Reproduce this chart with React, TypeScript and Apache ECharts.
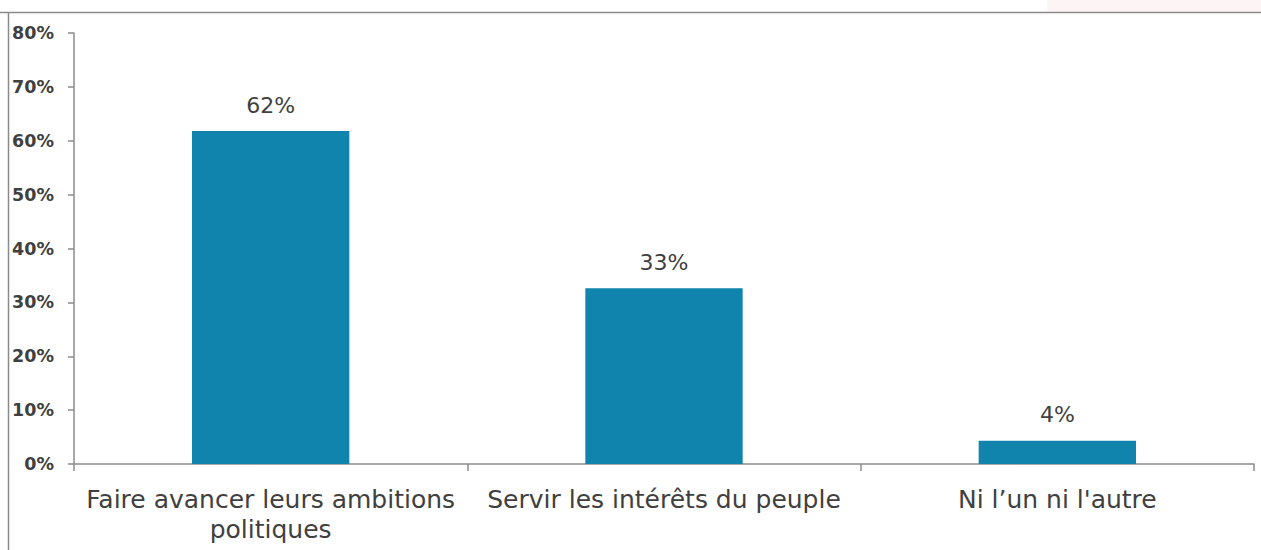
import React, { useEffect, useRef } from "react";
import * as echarts from "echarts";

const categories = [
  "Faire avancer leurs ambitions\npolitiques",
  "Servir les intérêts du peuple",
  "Ni l\u2019un ni l'autre",
];
const values = [61.8, 32.6, 4.3];
const yTicks = [0, 10, 20, 30, 40, 50, 60, 70, 80];

export default function App() {
  const ref = useRef<HTMLDivElement>(null);
  useEffect(() => {
    if (!ref.current) return;
    const chart = echarts.init(ref.current, undefined, { renderer: "svg" });
    const font = "'DejaVu Sans', sans-serif";
    chart.setOption({
      animation: false,
      backgroundColor: "#ffffff",
      textStyle: { fontFamily: font },
      grid: { left: 74, top: 33, right: 7, bottom: 86, containLabel: false },
      graphic: [
        { type: "rect", shape: { x: 1047, y: 0, width: 214, height: 12 }, style: { fill: "#fdf5f5" }, silent: true },
        { type: "line", shape: { x1: 0, y1: 12.5, x2: 1261, y2: 12.5 }, style: { stroke: "#8a8a8a", lineWidth: 1.5 }, silent: true },
        { type: "line", shape: { x1: 8.5, y1: 12, x2: 8.5, y2: 550 }, style: { stroke: "#8a8a8a", lineWidth: 1.5 }, silent: true },
      ],
      xAxis: {
        type: "category",
        data: categories,
        boundaryGap: true,
        axisLine: { show: true, lineStyle: { color: "#8c8c8c", width: 1.5 } },
        axisTick: { show: true, length: 7, lineStyle: { color: "#8c8c8c", width: 1.5 } },
        axisLabel: {
          color: "#404040",
          fontSize: 25,
          fontFamily: font,
          margin: 20,
          lineHeight: 30,
          interval: 0,
        },
      },
      yAxis: {
        type: "value",
        min: yTicks[0],
        max: yTicks[yTicks.length - 1],
        interval: 10,
        splitLine: { show: false },
        axisLine: { show: true, lineStyle: { color: "#8c8c8c", width: 1.5 } },
        axisTick: { show: true, length: 6, lineStyle: { color: "#8c8c8c", width: 1.5 } },
        axisLabel: {
          color: "#404040",
          fontSize: 17.5,
          fontWeight: "bold",
          fontFamily: font,
          margin: 20,
          formatter: (v: number) => v + "%",
        },
      },
      series: [
        {
          type: "bar",
          data: values,
          barWidth: "40%",
          itemStyle: { color: "#1184ad" },
          label: {
            show: true,
            position: "top",
            distance: 15,
            color: "#404040",
            fontSize: 22,
            fontFamily: font,
            formatter: (p: any) => Math.round(p.value) + "%",
          },
        },
      ],
    });
    return () => chart.dispose();
  }, []);
  return (
    <div
      ref={ref}
      style={{ position: "absolute", left: 0, top: 0, width: 1261, height: 550 }}
    />
  );
}
